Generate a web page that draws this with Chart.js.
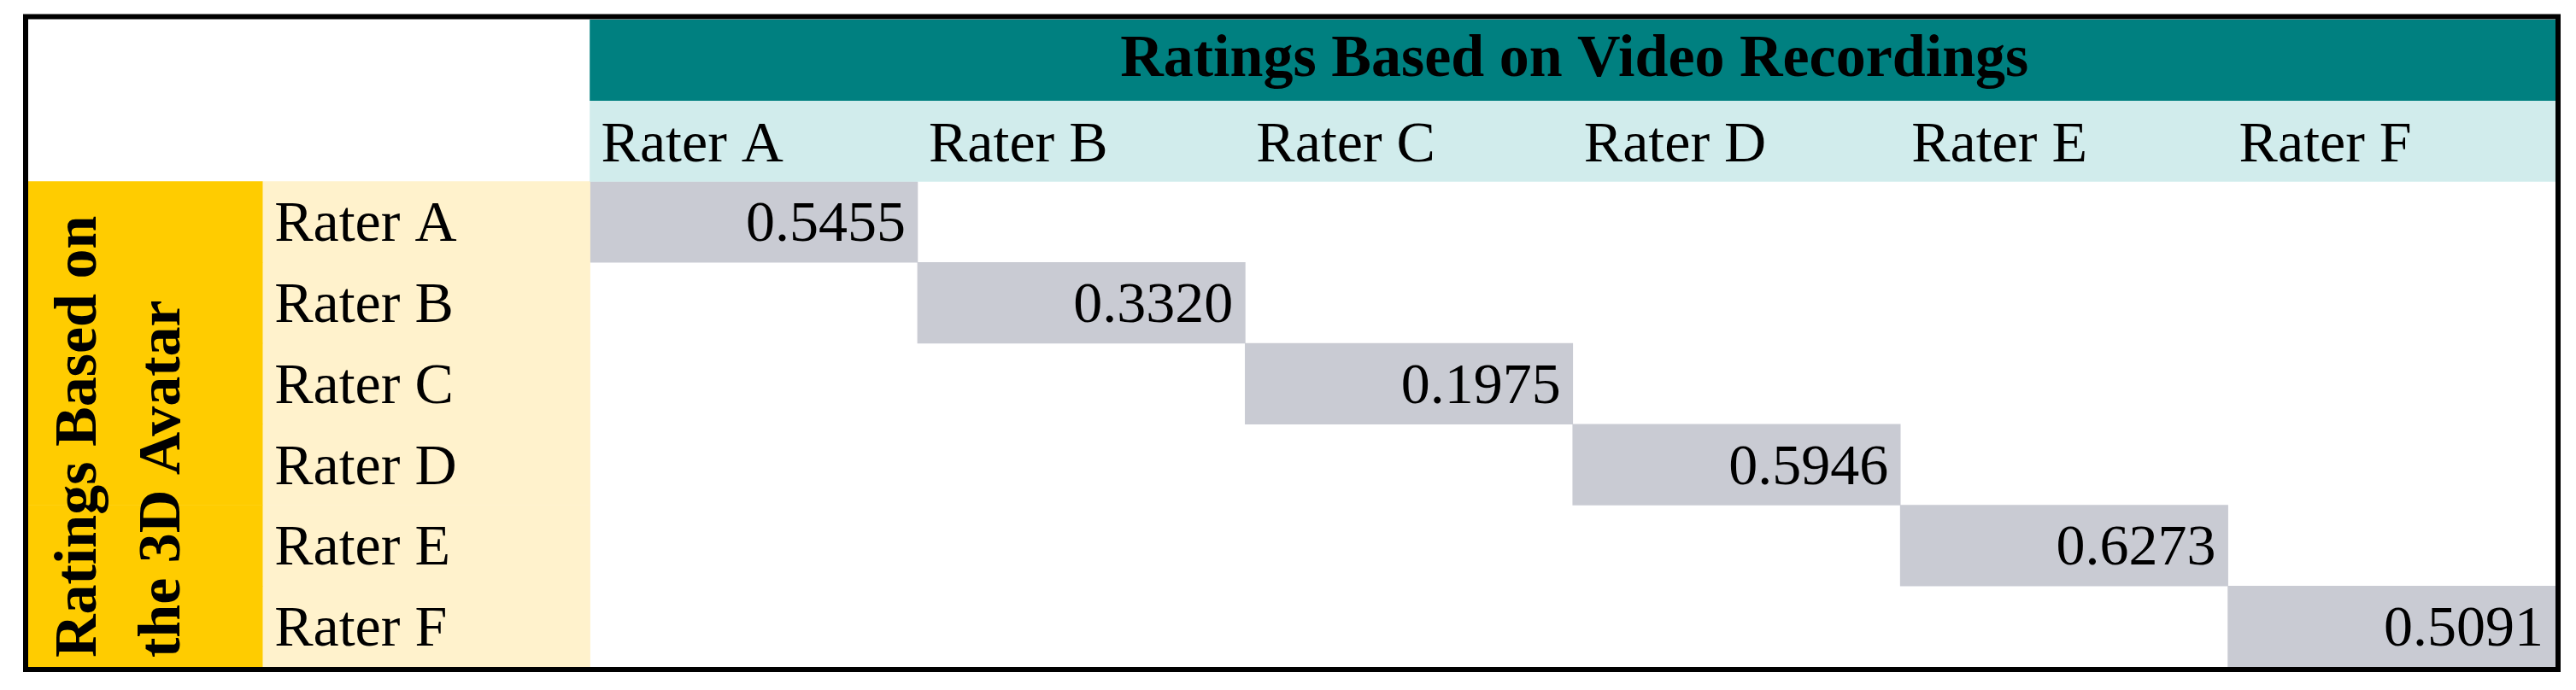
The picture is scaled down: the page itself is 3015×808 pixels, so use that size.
<!DOCTYPE html>
<html>
<head>
<meta charset="utf-8">
<title>Ratings agreement</title>
<script src="https://cdn.jsdelivr.net/npm/chart.js@4.4.1/dist/chart.umd.min.js"></script>
<style>
  html, body { margin: 0; padding: 0; background: #ffffff; }
  #wrap { width: 3015px; height: 808px; position: relative; }
  canvas { display: block; }
</style>
</head>
<body>
<div id="wrap"><canvas id="c" width="3015" height="808"></canvas></div>
<script>
// ---- data ----
const raters = ['Rater A', 'Rater B', 'Rater C', 'Rater D', 'Rater E', 'Rater F'];
const agreement = [0.5455, 0.3320, 0.1975, 0.5946, 0.6273, 0.5091];
const topTitle = 'Ratings Based on Video Recordings';
const sideTitle = ['Ratings Based on', 'the 3D Avatar'];
const rowKeys = ['title', 'header'].concat(raters);

// ---- styles ----
const C = {
  teal: '#008080',
  cyan: '#d1ecec',
  orange: '#ffcc00',
  lightYellow: '#fff2cc',
  gray: '#c9cbd3',
  text: '#000000'
};
const FONT = '"Liberation Serif", "Times New Roman", serif';
const SIZE = 68;
const CAP = 0.662;
const SIDE_MIN = -1.715; // left edge of the side-title column (in column units)

function rowData(fn) {
  return rowKeys.map((k, i) => fn(k, i));
}

const datasets = [
  { label: 'title', backgroundColor: C.teal,
    data: rowData((k) => k === 'title' ? [0, raters.length] : null) },
  { label: 'header', backgroundColor: C.cyan,
    data: rowData((k) => k === 'header' ? [0, raters.length] : null) },
  { label: 'side', backgroundColor: C.orange,
    data: rowData((k, i) => i >= 2 ? [SIDE_MIN, -1] : null) },
  { label: 'rows', backgroundColor: C.lightYellow,
    data: rowData((k, i) => i >= 2 ? [-1, 0] : null) },
  { label: 'agreement', backgroundColor: C.gray,
    data: rowData((k, i) => i >= 2 ? [i - 2, i - 1] : null) }
];
datasets.forEach(d => {
  d.grouped = false;
  d.barPercentage = 1;
  d.categoryPercentage = 1;
  d.borderWidth = 0;
});

const tablePlugin = {
  id: 'tableText',
  afterDatasetsDraw(chart) {
    const ctx = chart.ctx;
    const xs = chart.scales.x;
    const ys = chart.scales.y;
    const band = ys.getPixelForValue(1) - ys.getPixelForValue(0);
    const rowCenter = (i) => ys.getPixelForValue(i);
    ctx.save();
    ctx.fillStyle = C.text;
    ctx.textBaseline = 'alphabetic';

    // top title
    ctx.font = 'bold 70px ' + FONT;
    ctx.textAlign = 'center';
    const tx = (xs.getPixelForValue(0) + xs.getPixelForValue(raters.length)) / 2 + 2;
    ctx.fillText(topTitle, tx, rowCenter(0) + 70 * CAP / 2 - 5);

    // column headers
    ctx.font = SIZE + 'px ' + FONT;
    ctx.textAlign = 'left';
    raters.forEach((r, j) => {
      ctx.fillText(r, xs.getPixelForValue(j) + 13, rowCenter(1) + SIZE * CAP / 2 + 1);
    });

    // row labels
    raters.forEach((r, i) => {
      ctx.fillText(r, xs.getPixelForValue(-1) + 14, rowCenter(i + 2) + SIZE * CAP / 2);
    });

    // values (diagonal)
    ctx.textAlign = 'right';
    agreement.forEach((v, i) => {
      ctx.fillText(v.toFixed(4), xs.getPixelForValue(i + 1) - 14, rowCenter(i + 2) + SIZE * CAP / 2);
    });

    // side title, rotated
    ctx.font = 'bold 70px ' + FONT;
    ctx.textAlign = 'left';
    const sideLeft = xs.getPixelForValue(SIDE_MIN);
    const bottom = ys.getPixelForValue(rowKeys.length - 1) + band / 2;
    const baseX = [sideLeft + 79, sideLeft + 177];
    sideTitle.forEach((line, k) => {
      ctx.save();
      ctx.translate(baseX[k], bottom - 11);
      ctx.rotate(-Math.PI / 2);
      ctx.fillText(line, 0, 0);
      ctx.restore();
    });

    // outer border
    const a = chart.chartArea;
    ctx.strokeStyle = '#000000';
    ctx.lineWidth = 6;
    ctx.strokeRect(a.left - 3, a.top - 3.5, (a.right - a.left) + 6, (a.bottom - a.top) + 6.5);
    ctx.restore();
  }
};

new Chart(document.getElementById('c'), {
  type: 'bar',
  data: { labels: rowKeys, datasets: datasets },
  options: {
    indexAxis: 'y',
    responsive: false,
    devicePixelRatio: 1,
    animation: false,
    layout: { padding: { left: 33, top: 23, right: 24, bottom: 27 } },
    scales: {
      x: { type: 'linear', min: SIDE_MIN, max: raters.length, display: false, grid: { display: false } },
      y: { type: 'category', display: false, grid: { display: false }, offset: true }
    },
    plugins: {
      legend: { display: false },
      tooltip: { enabled: false }
    }
  },
  plugins: [tablePlugin]
});
</script>
</body>
</html>
